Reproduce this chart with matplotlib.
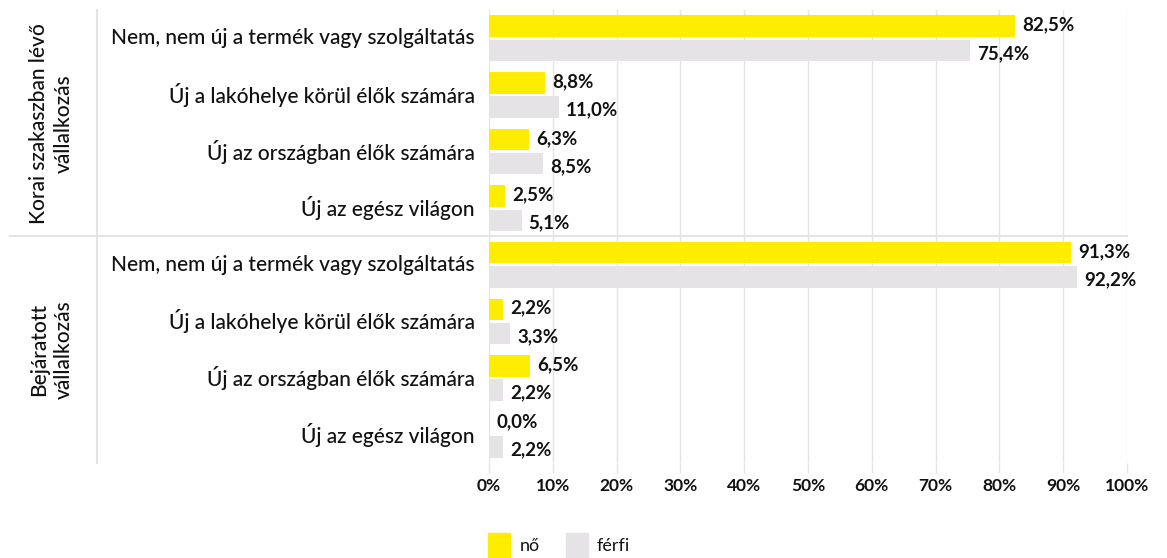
import numpy as np
import matplotlib
matplotlib.use("Agg")
import matplotlib.pyplot as plt
from matplotlib.lines import Line2D
from matplotlib.patches import Rectangle

plt.rcParams['font.family'] = ['Lato', 'DejaVu Sans']

groups = ["Korai szakaszban lévő\nvállalkozás", "Bejáratott\nvállalkozás"]
categories = ["Nem, nem új a termék vagy szolgáltatás",
              "Új a lakóhelye körül élők számára",
              "Új az országban élők számára",
              "Új az egész világon"]
no_vals = [82.5, 8.8, 6.3, 2.5, 91.3, 2.2, 6.5, 0.0]
ferfi_vals = [75.4, 11.0, 8.5, 5.1, 92.2, 3.3, 2.2, 2.2]
series_names = ["nő", "férfi"]
xticks = list(range(0, 101, 10))

yellow = '#FFED00'
grey = '#E5E3E6'
gridc = '#E4E4E4'
W, H = 1167, 558

fig = plt.figure(figsize=(W / 100, H / 100), dpi=100)
left, right, top, bottom = 489, 1127, 10, 463
ax = fig.add_axes([left / W, 1 - bottom / H, (right - left) / W, (bottom - top) / H])

n = len(no_vals)
ypos = np.arange(n)
off = 0.215
hb = 0.38
ax.barh(ypos - off, no_vals, height=hb, color=yellow, zorder=3)
ax.barh(ypos + off, ferfi_vals, height=hb, color=grey, zorder=3)

def fmt(v):
    return ("%.1f" % v).replace('.', ',') + '%'

for i in range(n):
    ax.text(no_vals[i] + 1.1, ypos[i] - off - 0.02, fmt(no_vals[i]), va='center', ha='left',
            fontsize=13.5, fontweight='bold', color='#111111', zorder=4)
    ax.text(ferfi_vals[i] + 1.1, ypos[i] + off + 0.05, fmt(ferfi_vals[i]), va='center', ha='left',
            fontsize=13.5, fontweight='bold', color='#111111', zorder=4)

ax.set_xlim(0, 100)
ax.set_ylim(n - 0.5, -0.5)
ax.set_xticks(xticks)
ax.set_xticklabels([str(t) + '%' for t in xticks], fontsize=12.5, fontweight='bold', color='#111111')
ax.set_yticks([])
ax.tick_params(axis='x', length=7, color=gridc, width=1, pad=4)
ax.grid(axis='x', color=gridc, linewidth=1, zorder=0)
for s in ax.spines.values():
    s.set_visible(False)

# category labels
for g in range(len(groups)):
    for j, c in enumerate(categories):
        k = g * len(categories) + j
        ax.text(-2.2, ypos[k], c, ha='right', va='center', fontsize=15, fontweight='medium',
                color='#111111')

# group labels
ax.text(-68.6, 1.5, groups[0], rotation=90, ha='center', va='center', fontsize=15,
        fontweight='medium', color='#111111', multialignment='center', linespacing=1.3)
ax.text(-68.6, 5.5, groups[1], rotation=90, ha='center', va='center', fontsize=15,
        fontweight='medium', color='#111111', multialignment='center', linespacing=1.3)

# separator lines
fig.add_artist(Line2D([10 / W, right / W], [1 - 236 / H, 1 - 236 / H], color=gridc, linewidth=1.5))
fig.add_artist(Line2D([97 / W, 97 / W], [1 - top / H, 1 - bottom / H], color=gridc, linewidth=1.5))

# legend
fig.add_artist(Rectangle((488 / W, 1 - 558 / H), 22 / W, 25 / H, color=yellow, transform=fig.transFigure))
fig.text(520 / W, 1 - 546 / H, series_names[0], va='center', ha='left', fontsize=13, color='#111111')
fig.add_artist(Rectangle((566 / W, 1 - 558 / H), 22 / W, 25 / H, color=grey, transform=fig.transFigure))
fig.text(597 / W, 1 - 546 / H, series_names[1], va='center', ha='left', fontsize=13, color='#111111')

fig.savefig('out.png', dpi=100)
